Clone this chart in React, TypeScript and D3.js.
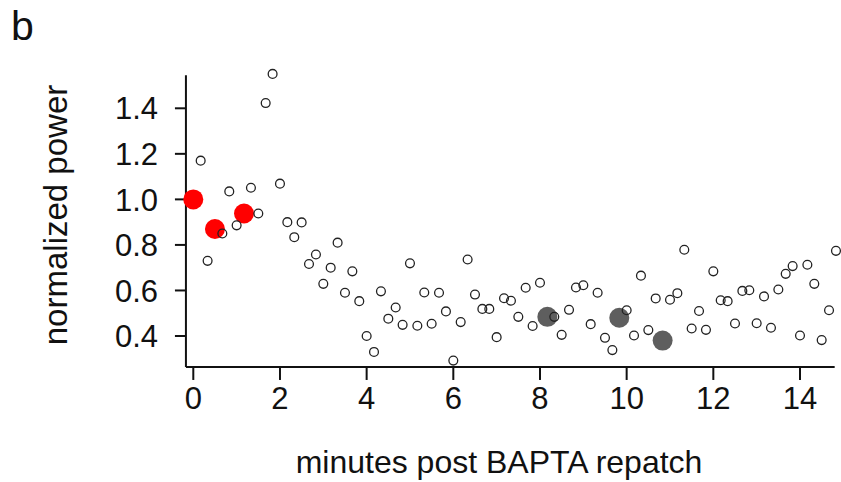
import React from "react";
import * as d3 from "d3";

// time after repatch (min) and normalized power, one row every 10 s
const minutes = [
  0.0, 0.17, 0.33, 0.5, 0.67, 0.83, 1.0, 1.17, 1.33, 1.5,
  1.67, 1.83, 2.0, 2.17, 2.33, 2.5, 2.67, 2.83, 3.0, 3.17,
  3.33, 3.5, 3.67, 3.83, 4.0, 4.17, 4.33, 4.5, 4.67, 4.83,
  5.0, 5.17, 5.33, 5.5, 5.67, 5.83, 6.0, 6.17, 6.33, 6.5,
  6.67, 6.83, 7.0, 7.17, 7.33, 7.5, 7.67, 7.83, 8.0, 8.17,
  8.33, 8.5, 8.67, 8.83, 9.0, 9.17, 9.33, 9.5, 9.67, 9.83,
  10.0, 10.17, 10.33, 10.5, 10.67, 10.83, 11.0, 11.17, 11.33, 11.5,
  11.67, 11.83, 12.0, 12.17, 12.33, 12.5, 12.67, 12.83, 13.0, 13.17,
  13.33, 13.5, 13.67, 13.83, 14.0, 14.17, 14.33, 14.5, 14.67, 14.83,
];
const power = [
  1.0, 1.17, 0.73, 0.87, 0.85, 1.035, 0.886, 0.938, 1.051, 0.938,
  1.423, 1.551, 1.069, 0.9, 0.834, 0.899, 0.716, 0.758, 0.629, 0.7,
  0.81, 0.59, 0.684, 0.553, 0.4, 0.33, 0.596, 0.476, 0.525, 0.449,
  0.719, 0.445, 0.591, 0.454, 0.59, 0.508, 0.292, 0.461, 0.736, 0.582,
  0.519, 0.519, 0.395, 0.566, 0.555, 0.484, 0.612, 0.444, 0.634, 0.484,
  0.484, 0.405, 0.515, 0.613, 0.623, 0.452, 0.59, 0.392, 0.338, 0.48,
  0.513, 0.402, 0.665, 0.426, 0.565, 0.38, 0.559, 0.588, 0.779, 0.433,
  0.51, 0.427, 0.684, 0.557, 0.553, 0.455, 0.598, 0.601, 0.456, 0.574,
  0.436, 0.604, 0.673, 0.707, 0.402, 0.713, 0.629, 0.382, 0.513, 0.774,
];
// highlighted samples (index into the arrays above)
const redIdx = [0, 3, 7];
const grayIdx = [49, 59, 65];

const xTicks = [0, 2, 4, 6, 8, 10, 12, 14];
const yTicks = [0.4, 0.6, 0.8, 1.0, 1.2, 1.4];

const font = "'Liberation Sans', Arial, sans-serif";

export default function App() {
  const x = d3.scaleLinear().domain([0, 14]).range([193.3, 800]);
  const y = d3.scaleLinear().domain([0.4, 1.4]).range([336, 108.3]);

  const x0 = x(-0.17);
  const x1 = x(14.8);
  const yTop = y(1.545);
  const yBot = y(0.264);

  const idx = d3.range(minutes.length);
  const open = idx.filter((i) => !redIdx.includes(i) && !grayIdx.includes(i));

  return (
    <svg
      width={841}
      height={482}
      style={{ position: "absolute", left: 0, top: 0, background: "#fff" }}
      fontFamily={font}
    >
      <text x={11} y={40} fontSize={41} fill="#111">b</text>

      {/* axes */}
      <g stroke="#111" strokeWidth={2} fill="none">
        <line x1={x0} x2={x0} y1={yTop} y2={yBot} />
        <line x1={x0} x2={x1} y1={yBot} y2={yBot} />
        {yTicks.map((t) => (
          <line key={"yt" + t} x1={x0 - 11} x2={x0} y1={y(t)} y2={y(t)} />
        ))}
        {xTicks.map((t) => (
          <line key={"xt" + t} x1={x(t)} x2={x(t)} y1={yBot} y2={yBot + 13} />
        ))}
      </g>

      {yTicks.map((t) => (
        <text
          key={"yl" + t}
          x={158}
          y={y(t)}
          dy="0.36em"
          textAnchor="end"
          fontSize={31}
          fill="#111"
        >
          {d3.format(".1f")(t)}
        </text>
      ))}
      {xTicks.map((t) => (
        <text
          key={"xl" + t}
          x={x(t)}
          y={409}
          textAnchor="middle"
          fontSize={31}
          fill="#111"
        >
          {t}
        </text>
      ))}

      <text x={499} y={473} textAnchor="middle" fontSize={32} fill="#111">
        minutes post BAPTA repatch
      </text>
      <text
        transform="translate(67,215) rotate(-90)"
        textAnchor="middle"
        fontSize={33}
        fill="#111"
      >
        normalized power
      </text>

      {/* filled highlights underneath, open circles on top */}
      {redIdx.map((i) => (
        <circle key={"r" + i} cx={x(minutes[i])} cy={y(power[i])} r={10} fill="#ff0000" />
      ))}
      {grayIdx.map((i) => (
        <circle key={"g" + i} cx={x(minutes[i])} cy={y(power[i])} r={10} fill="#5e5e5e" />
      ))}
      {open.map((i) => (
        <circle
          key={"o" + i}
          cx={x(minutes[i])}
          cy={y(power[i])}
          r={4.4}
          fill="none"
          stroke="#222"
          strokeWidth={1.3}
        />
      ))}
    </svg>
  );
}
